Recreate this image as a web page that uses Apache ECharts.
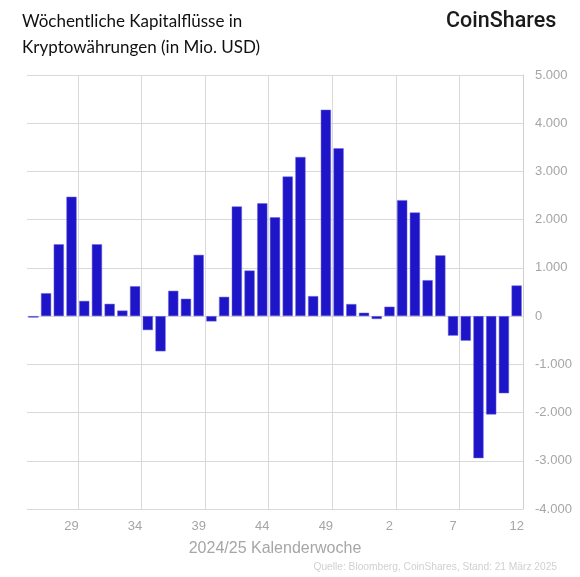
<!DOCTYPE html>
<html>
<head>
<meta charset="utf-8">
<script src="https://cdn.jsdelivr.net/npm/echarts@6/dist/echarts.min.js"></script>
<style>
  html, body { margin: 0; padding: 0; background: #fff; }
  #chart { width: 580px; height: 577px; }
</style>
</head>
<body>
<div id="chart"></div>
<script>
// Kalenderwochen 26/2024 .. 12/2025
var weeks = [26, 27, 28, 29, 30, 31, 32, 33, 34, 35, 36, 37, 38, 39, 40, 41, 42, 43, 44, 45,
             46, 47, 48, 49, 50, 51, 52, 1, 2, 3, 4, 5, 6, 7, 8, 9, 10, 11, 12];
// Wöchentliche Flüsse in Mio. USD
var flows = [-30, 475, 1490, 2475, 315, 1490, 255, 115, 620, -290, -730, 525, 360, 1270, -110, 400, 2275, 945, 2340, 2050,
             2895, 3300, 415, 4280, 3480, 250, 70, -60, 195, 2405, 2150, 745, 1260, -405, -510, -2945, -2040, -1600, 635];
var yTicks = [-4000, 5000, 1000];

var titleLines = ['Wöchentliche Kapitalflüsse in', 'Kryptowährungen (in Mio. USD)'];
var source = 'Quelle: Bloomberg, CoinShares, Stand: 21 März 2025';

function fmt(v) {
    var s = Math.abs(v).toString().replace(/\B(?=(\d{3})+(?!\d))/g, '.');
    return (v < 0 ? '-' : '') + s;
}

var chart = echarts.init(document.getElementById('chart'));
chart.setOption({
    animation: false,
    grid: { left: 27, right: 57, top: 75, bottom: 68 },
    title: [{
        text: titleLines.join('\n'),
        left: 22, top: 9, padding: 0,
        textStyle: { fontFamily: 'Lato', fontWeight: 'normal', fontSize: 17, lineHeight: 26, color: '#111' }
    }, {
        text: 'CoinShares',
        left: 446, top: 11, padding: 0,
        textStyle: { fontFamily: 'Roboto', fontWeight: 500, fontSize: 21.5, color: '#1a1a1a' }
    }, {
        text: source,
        right: 23, bottom: 5, padding: 0,
        textStyle: { fontFamily: 'Liberation Sans', fontWeight: 'normal', fontSize: 10.2, color: '#d0d0d0' }
    }],
    xAxis: {
        type: 'category',
        data: weeks,
        name: '2024/25 Kalenderwoche',
        nameLocation: 'middle',
        nameGap: 32,
        nameTextStyle: { fontFamily: 'Liberation Sans', fontSize: 16, color: '#a6a6a6' },
        axisLine: { show: false, onZero: false },
        axisTick: { show: false },
        axisLabel: {
            interval: function (i) { return i % 5 === 3; },
            margin: 11,
            fontFamily: 'Liberation Sans', fontSize: 13, color: '#a6a6a6'
        },
        splitLine: {
            show: true,
            interval: function (i) { return i % 5 === 4; },
            lineStyle: { color: '#d9d9d9', width: 1 }
        }
    },
    yAxis: {
        type: 'value',
        position: 'right',
        min: yTicks[0], max: yTicks[1], interval: yTicks[2],
        axisLine: { show: true, lineStyle: { color: '#cfcfcf' } },
        axisTick: { show: false },
        axisLabel: {
            margin: 12,
            formatter: fmt,
            fontFamily: 'Liberation Sans', fontSize: 13, color: '#a6a6a6'
        },
        splitLine: { lineStyle: { color: '#d9d9d9', width: 1 } }
    },
    series: [{
        type: 'bar',
        data: flows,
        barCategoryGap: '20%',
        itemStyle: { color: '#1e14c8', borderColor: '#6b66dc', borderWidth: 0.5 }
    }]
});
</script>
</body>
</html>
